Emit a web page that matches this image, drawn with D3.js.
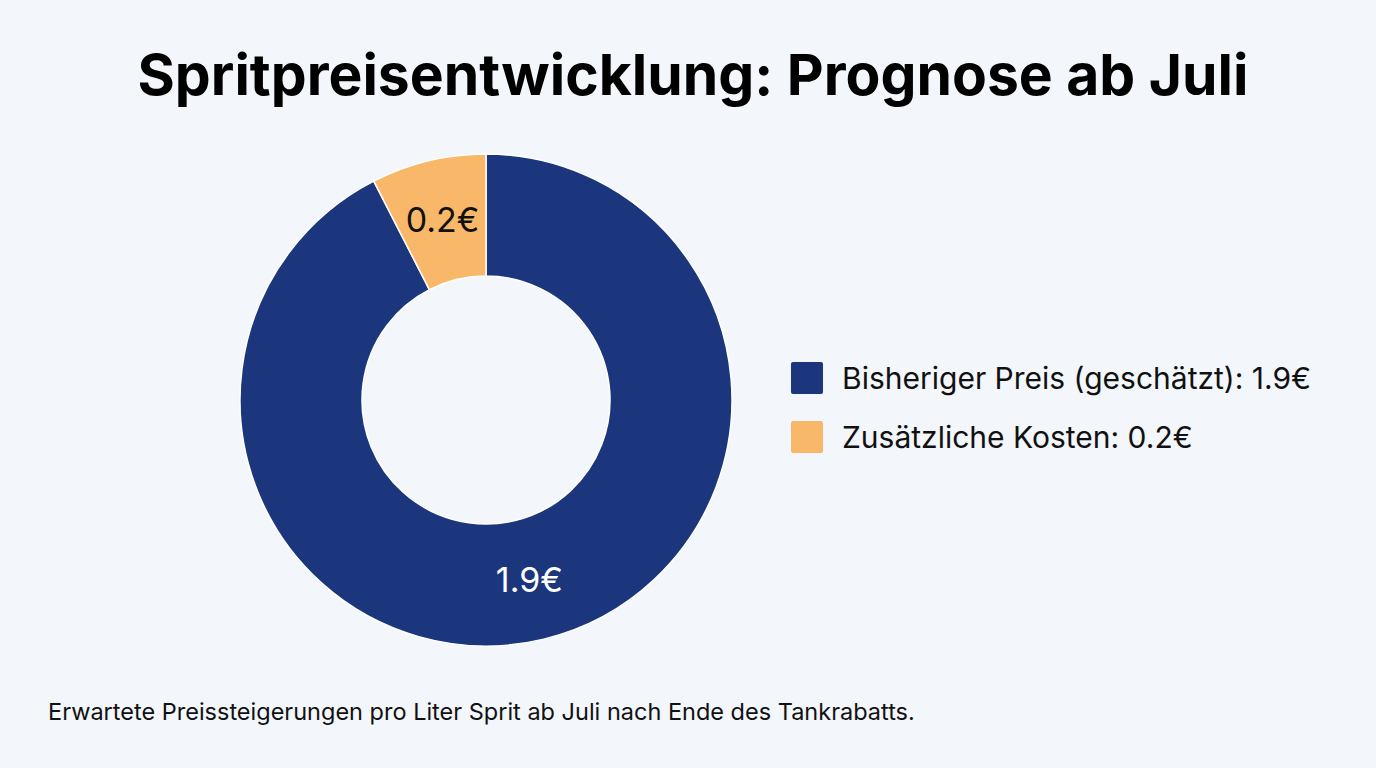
<!DOCTYPE html>
<html>
<head>
<meta charset="utf-8">
<script src="https://cdn.jsdelivr.net/npm/d3@7"></script>
<style>
  body { margin: 0; background: #f3f6fa; }
  svg { display: block; font-family: Inter, "Noto Sans", sans-serif; }
</style>
</head>
<body>
<div class="chart"></div>
<script>
var categories = ["Bisheriger Preis (geschätzt)", "Zusätzliche Kosten"];
var values = [1.9, 0.155];
var colors = ["#1b367c", "#f9b869"];
var title = "Spritpreisentwicklung: Prognose ab Juli";
var note = "Erwartete Preissteigerungen pro Liter Sprit ab Juli nach Ende des Tankrabatts.";

var w = 1376;
var h = 768;
var cx = 486, cy = 400;
var outerR = 246, innerR = 124;

var fmt = function(v){ return d3.format(".1f")(v) + "€"; };

var data = categories.map(function(c, i){
  return { name: c, value: values[i], color: colors[i] };
});

var svg = d3.select(".chart")
            .append("svg")
            .attr("width", w)
            .attr("height", h);

svg.append("rect")
   .attr("width", w)
   .attr("height", h)
   .attr("fill", "#f3f6fa");

// title
svg.append("text")
   .attr("x", w / 2 + 5)
   .attr("y", 95)
   .attr("text-anchor", "middle")
   .attr("font-size", 57)
   .attr("font-weight", 700)
   .attr("fill", "#000")
   .text(title);

// donut
var pie = d3.pie()
            .sort(null)
            .value(function(d){ return d.value; });
var arc = d3.arc()
            .innerRadius(innerR)
            .outerRadius(outerR);

var g = svg.append("g")
           .attr("transform", "translate(" + cx + "," + cy + ")");

var slices = pie(data);

g.selectAll("path")
 .data(slices)
 .enter()
 .append("path")
 .attr("d", arc)
 .attr("fill", function(d){ return d.data.color; })
 .attr("stroke", "#ffffff")
 .attr("stroke-width", 1.5);

g.selectAll("text")
 .data(slices)
 .enter()
 .append("text")
 .attr("transform", function(d){ return "translate(" + arc.centroid(d) + ")"; })
 .attr("text-anchor", "middle")
 .attr("dy", "0.35em")
 .attr("font-size", 34)
 .attr("fill", function(d, i){ return i === 0 ? "#ffffff" : "#111111"; })
 .text(function(d){ return fmt(d.data.value); });

// legend
var legend = svg.append("g")
                .attr("transform", "translate(791,362)");

legend.selectAll("rect")
      .data(data)
      .enter()
      .append("rect")
      .attr("x", 0)
      .attr("y", function(d, i){ return i * 59; })
      .attr("width", 32)
      .attr("height", 32)
      .attr("rx", 2)
      .attr("fill", function(d){ return d.color; });

legend.selectAll("text")
      .data(data)
      .enter()
      .append("text")
      .attr("x", 51)
      .attr("y", function(d, i){ return i * 59 + 27; })
      .attr("font-size", 30)
      .attr("fill", "#111")
      .text(function(d){ return d.name + ": " + fmt(d.value); });

// footnote
svg.append("text")
   .attr("x", 48)
   .attr("y", 720)
   .attr("font-size", 23.5)
   .attr("fill", "#111")
   .text(note);
</script>
</body>
</html>
